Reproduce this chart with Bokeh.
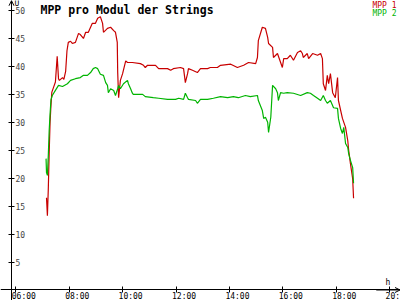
from bokeh.plotting import figure
from bokeh.models import Range1d, LinearAxis, FixedTicker, Label, Arrow, OpenHead
from bokeh.core.properties import value
from bokeh.embed import file_html
from bokeh.resources import INLINE

# MPP 1 (red) - time of day, volts
mpp1_times = ["07:09", "07:11", "07:13", "07:15", "07:17", "07:19", "07:21", "07:25", "07:29", "07:33",
              "07:36", "07:38", "07:45", "07:48", "07:52", "07:55", "07:58", "08:03", "08:07", "08:14",
              "08:21", "08:25", "08:32", "08:37", "08:43", "08:52", "08:59", "09:04", "09:10", "09:15",
              "09:17", "09:26", "09:33", "09:40", "09:44", "09:48", "09:49", "09:51", "09:55", "10:00",
              "10:07", "10:11", "10:22", "10:40", "10:47", "10:51", "10:56", "11:14", "11:21", "11:41",
              "11:48", "11:54", "12:10", "12:17", "12:21", "12:26", "12:28", "12:37", "12:48", "12:55",
              "13:11", "13:17", "13:33", "13:40", "14:03", "14:18", "14:32", "14:43", "14:59", "15:03",
              "15:05", "15:14", "15:21", "15:26", "15:28", "15:37", "15:39", "15:48", "15:59", "16:02",
              "16:10", "16:17", "16:24", "16:33", "16:40", "16:44", "16:46", "16:55", "16:58", "17:07",
              "17:18", "17:25", "17:29", "17:31", "17:36", "17:40", "17:43", "17:47", "17:52", "17:58",
              "18:03", "18:05", "18:14", "18:21", "18:26", "18:28", "18:32", "18:37", "18:39"]
mpp1_values = [16.5, 13.3, 18.0, 24.5, 30.0, 33.0, 35.4, 36.3, 37.2, 41.8,
               37.8, 37.5, 38.0, 37.7, 39.1, 42.8, 44.3, 44.5, 44.1, 44.3,
               45.9, 45.7, 45.0, 46.1, 46.1, 47.7, 47.7, 48.6, 48.9, 47.7,
               46.1, 46.8, 47.0, 46.4, 46.1, 44.3, 38.9, 34.4, 37.5, 38.7,
               41.0, 40.7, 40.7, 40.5, 40.2, 39.8, 40.2, 40.2, 39.6, 39.6,
               39.3, 39.6, 39.8, 39.6, 37.1, 38.7, 39.6, 39.3, 38.9, 39.6,
               39.6, 39.8, 39.8, 40.2, 40.4, 39.8, 40.2, 40.7, 40.5, 41.6,
               44.6, 47.0, 46.8, 45.2, 44.1, 43.4, 41.6, 42.3, 39.8, 41.4,
               41.4, 42.0, 41.1, 42.5, 42.8, 42.3, 41.6, 42.3, 41.4, 42.3,
               42.0, 42.3, 41.4, 36.9, 35.7, 38.4, 36.9, 38.7, 35.3, 34.4,
               38.0, 33.9, 30.7, 29.1, 26.7, 25.0, 22.6, 19.9, 16.4]

# MPP 2 (green)
mpp2_times = ["07:08", "07:09", "07:11", "07:13", "07:15", "07:17", "07:19", "07:22", "07:29", "07:36",
              "07:45", "07:56", "08:03", "08:14", "08:25", "08:32", "08:41", "08:48", "08:54", "08:59",
              "09:04", "09:10", "09:17", "09:22", "09:26", "09:28", "09:33", "09:40", "09:44", "09:49",
              "09:51", "09:55", "10:02", "10:11", "10:13", "10:18", "10:22", "10:24", "10:45", "10:51",
              "11:09", "11:21", "11:41", "11:59", "12:06", "12:17", "12:21", "12:26", "12:28", "12:44",
              "12:48", "12:55", "13:11", "13:24", "13:40", "13:56", "14:09", "14:20", "14:36", "14:47",
              "15:03", "15:05", "15:14", "15:17", "15:21", "15:26", "15:28", "15:33", "15:37", "15:44",
              "15:48", "15:50", "15:55", "16:02", "16:10", "16:24", "16:40", "16:55", "17:02", "17:09",
              "17:18", "17:25", "17:31", "17:36", "17:40", "17:47", "17:54", "18:03", "18:05", "18:10",
              "18:14", "18:17", "18:21", "18:26", "18:28", "18:32", "18:37", "18:39"]
mpp2_values = [23.5, 21.0, 20.5, 24.0, 28.5, 31.5, 34.0, 34.8, 35.7, 36.6,
               36.4, 36.9, 37.5, 37.8, 38.0, 38.4, 38.4, 38.9, 39.6, 39.8,
               39.6, 38.6, 38.4, 37.1, 36.6, 35.3, 36.0, 35.7, 34.8, 36.0,
               36.6, 36.0, 36.9, 37.5, 36.9, 36.0, 35.2, 35.0, 35.0, 34.6,
               34.4, 34.3, 34.1, 34.1, 34.3, 34.1, 35.2, 34.4, 34.1, 33.9,
               33.4, 34.1, 34.1, 34.3, 34.6, 34.4, 34.6, 34.4, 34.8, 34.6,
               34.8, 33.9, 32.1, 30.7, 30.9, 30.0, 28.2, 30.9, 36.6, 36.0,
               35.3, 33.9, 35.3, 35.2, 35.3, 35.2, 34.8, 35.3, 35.2, 34.8,
               34.3, 33.9, 34.8, 33.9, 33.4, 33.9, 32.6, 32.5, 30.7, 28.9,
               28.0, 29.1, 26.2, 25.5, 24.4, 23.2, 21.9, 19.1]

x_ticks = [6, 8, 10, 12, 14, 16, 18, 20]
x_tick_labels = ["06:00", "08:00", "10:00", "12:00", "14:00", "16:00", "18:00", "20:00"]
y_ticks = [5, 10, 15, 20, 25, 30, 35, 40, 45, 50]

title_text = "MPP pro Modul der Strings"
series_names = ["MPP 1", "MPP 2"]
series_colors = ["#c80000", "#00b400"]


def to_hours(t):
    h, m = t.split(":")
    return int(h) + int(m) / 60.0


FONT = "DejaVu Sans Mono"

p = figure(width=400, height=300, output_backend="svg", toolbar_location=None,
           x_range=Range1d(5.427, 20.408), y_range=Range1d(-1.88, 51.79),
           x_axis_location=None, y_axis_location=None, min_border=0,
           background_fill_color="white", border_fill_color="white",
           outline_line_color=None)
p.grid.visible = False

yaxis = LinearAxis(fixed_location=5.839, ticker=FixedTicker(ticks=y_ticks),
                   major_tick_in=3, major_tick_out=3, minor_tick_in=0, minor_tick_out=0,
                   major_label_standoff=1, major_label_text_font=FONT,
                   major_label_text_font_size="8px", axis_line_color="black",
                   major_tick_line_color="black")
p.add_layout(yaxis, "right")

xaxis = LinearAxis(fixed_location=0, ticker=FixedTicker(ticks=x_ticks),
                   major_label_overrides={t: "" for t in x_ticks},
                   major_tick_in=3, major_tick_out=3, minor_tick_in=0, minor_tick_out=0,
                   major_label_text_font_size="8px",
                   axis_line_color="black", major_tick_line_color="black")
p.add_layout(xaxis, "below")

# x tick labels, left-aligned just before each tick as in the reference
p.text(x=x_ticks, y=[0] * len(x_ticks), text=x_tick_labels, text_font=value(FONT),
       text_font_size="8px", text_align="left", text_baseline="top",
       x_offset=-4, y_offset=2.5, text_color="black")

p.add_layout(Arrow(end=OpenHead(size=5, line_width=1), x_start=5.839, y_start=49.0,
                   x_end=5.839, y_end=51.75, line_width=1, line_color="black"))
p.add_layout(Arrow(end=OpenHead(size=5, line_width=1), x_start=19.5, y_start=0,
                   x_end=20.39, y_end=0, line_width=1, line_color="black"))

p.line([to_hours(t) for t in mpp1_times], mpp1_values, line_color=series_colors[0], line_width=1.2)
p.line([to_hours(t) for t in mpp2_times], mpp2_values, line_color=series_colors[1], line_width=1.2)

p.add_layout(Label(x=6.925, y=51.4, text=title_text, text_font=FONT, text_font_style="bold",
                   text_font_size="11.5px", text_baseline="top", text_color="black"))
p.add_layout(Label(x=20.258, y=51.75, text=series_names[0], text_font=FONT, text_font_size="8px",
                   text_align="right", text_baseline="top", text_color=series_colors[0]))
p.add_layout(Label(x=20.258, y=50.3, text=series_names[1], text_font=FONT, text_font_size="8px",
                   text_align="right", text_baseline="top", text_color=series_colors[1]))
p.add_layout(Label(x=5.95, y=52.0, text="U", text_font=FONT, text_font_size="8px",
                   text_baseline="top", text_color="black"))
p.add_layout(Label(x=19.846, y=2.1, text="h", text_font=FONT, text_font_size="8px",
                   text_baseline="top", text_color="black"))

open("out.html", "w").write(file_html(p, INLINE))
